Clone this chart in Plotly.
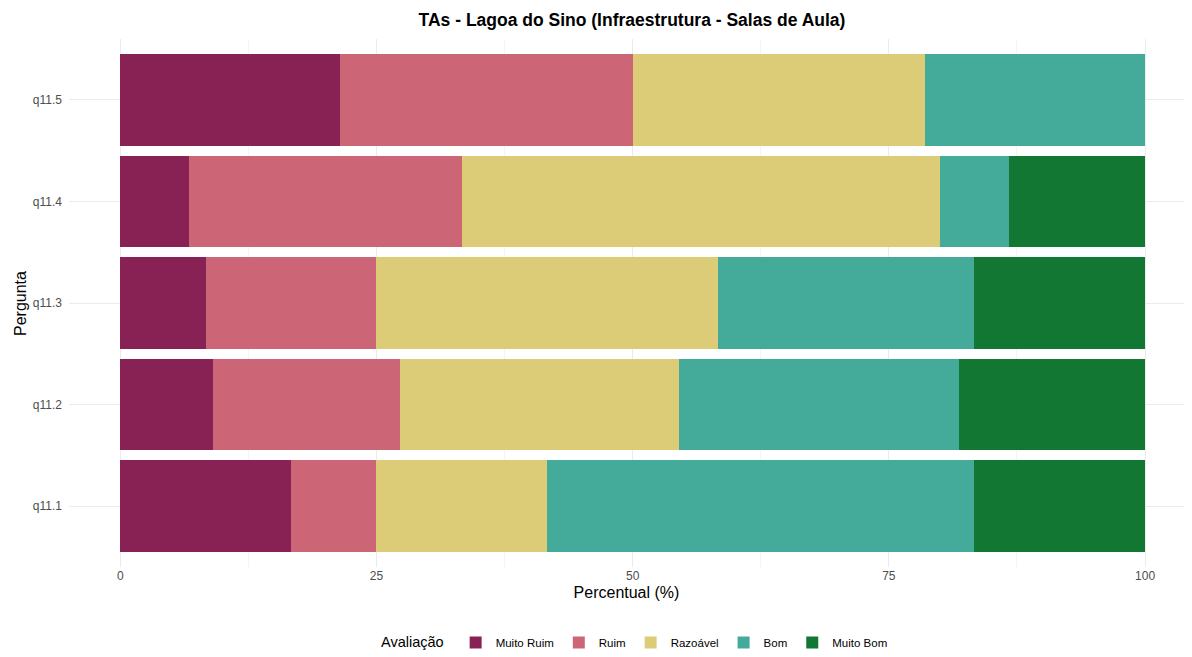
import plotly.graph_objects as go

perguntas = ["q11.1", "q11.2", "q11.3", "q11.4", "q11.5"]
categorias = ["Muito Ruim", "Ruim", "Razoável", "Bom", "Muito Bom"]
cores = ["#882255", "#CC6677", "#DDCC77", "#44AA99", "#117733"]

muito_ruim = [16.67, 9.09, 8.33, 6.67, 21.43]
ruim = [8.33, 18.18, 16.67, 26.67, 28.57]
razoavel = [16.67, 27.27, 33.33, 46.67, 28.57]
bom = [41.67, 27.27, 25.00, 6.67, 21.43]
muito_bom = [16.67, 18.18, 16.67, 13.33, 0.0]

valores = [muito_ruim, ruim, razoavel, bom, muito_bom]

W, H = 1176, 649
L, R, T, B = 61, 0, 31, 90

fig = go.Figure()
for nome, cor, vals in zip(categorias, cores, valores):
    fig.add_trace(go.Bar(
        y=perguntas, x=vals, name=nome, orientation="h",
        marker=dict(color=cor, line=dict(width=0)),
        width=0.9,
    ))

fig.update_layout(
    barmode="stack",
    width=W, height=H,
    paper_bgcolor="white", plot_bgcolor="white",
    margin=dict(l=L, r=R, t=T, b=B, pad=0),
    font=dict(family="Liberation Sans, Arial, sans-serif", color="#333333"),
    title=dict(text="<b>TAs - Lagoa do Sino (Infraestrutura - Salas de Aula)</b>",
               x=624 / W, xanchor="center", xref="container",
               y=1 - 12 / H, yanchor="middle", yref="container",
               font=dict(size=17.5, color="black")),
    xaxis=dict(range=[-5, 103.8], tickvals=[0, 25, 50, 75, 100], automargin=False,
               showgrid=True, gridcolor="#EBEBEB", gridwidth=1,
               minor=dict(tickvals=[12.5, 37.5, 62.5, 87.5], showgrid=True,
                          gridcolor="#F4F4F4", gridwidth=0.8),
               zeroline=False, showline=False, ticks="",
               tickfont=dict(size=12, color="#4D4D4D"),
               title=dict(text="Percentual (%)", font=dict(size=16, color="black"), standoff=4)),
    yaxis=dict(categoryorder="array", categoryarray=perguntas, range=[-0.6, 4.6],
               automargin=False, ticklabelstandoff=6,
               showgrid=True, gridcolor="#EBEBEB", gridwidth=1,
               zeroline=False, showline=False, ticks="",
               tickfont=dict(size=12, color="#4D4D4D")),
    legend=dict(orientation="h", x=628 / W, xanchor="center", xref="container",
                y=0.0, yanchor="bottom", yref="container",
                traceorder="normal",
                title=dict(text="Avaliação ", font=dict(size=14.5, color="black")),
                font=dict(size=11.5, color="black"), itemwidth=30),
    bargap=0.1,
    annotations=[dict(text="Pergunta", textangle=-90, xref="paper", yref="paper",
                      x=(12 - L) / (W - L - R), y=0.5, xanchor="center", yanchor="middle",
                      showarrow=False, font=dict(size=16, color="black"))],
)

fig.write_html("out.html")
